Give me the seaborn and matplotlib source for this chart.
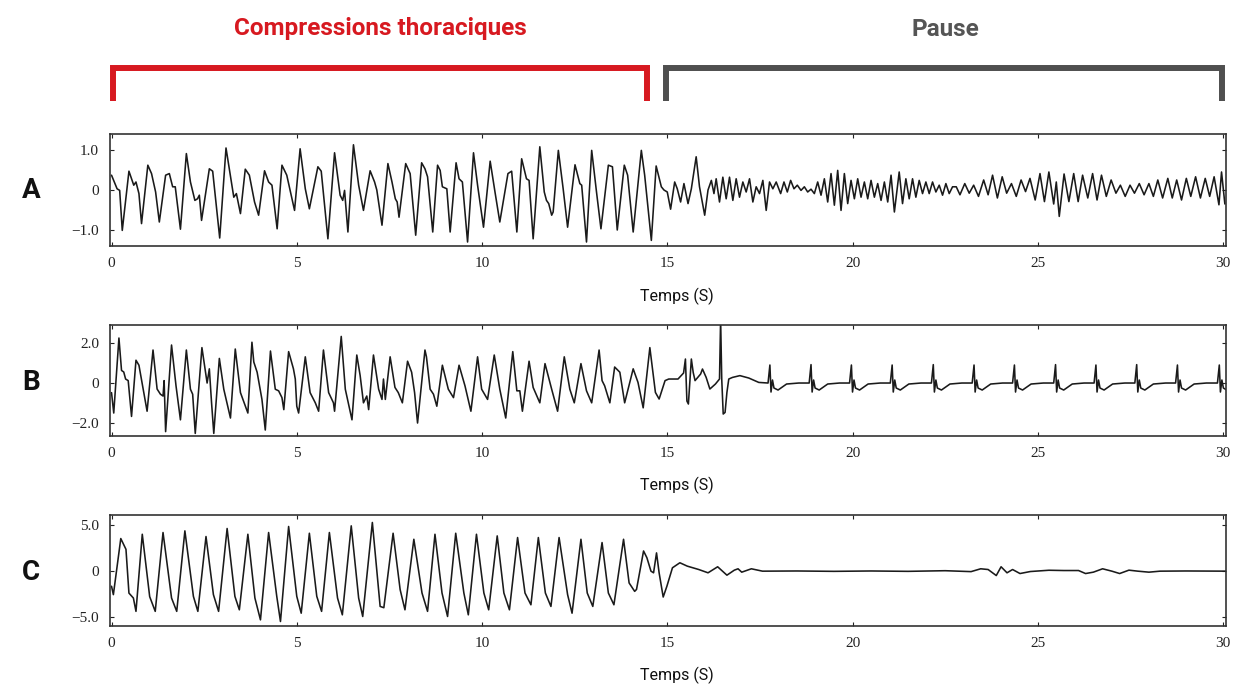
import numpy as np
import pandas as pd
import matplotlib
matplotlib.use('Agg')
import matplotlib.pyplot as plt
import seaborn as sns

# ---- signal A (time in s, amplitude) ----
a_time = [0.0, 0.15, 0.22, 0.29, 0.47, 0.60, 0.66, 0.74, 0.81, 0.98, 1.08, 1.19, 1.29, 1.46, 1.56, 1.65, 1.72, 1.86,
          2.02, 2.13, 2.25, 2.32, 2.37, 2.43, 2.64, 2.73, 2.92, 3.09, 3.30, 3.37, 3.48, 3.61, 3.72, 3.86, 3.97,
          4.13, 4.24, 4.33, 4.47, 4.60, 4.73, 4.85, 4.94, 5.09, 5.23, 5.34, 5.57, 5.66, 5.84, 6.02, 6.17, 6.24,
          6.29, 6.38, 6.53, 6.67, 6.80, 6.98, 7.10, 7.16, 7.30, 7.46, 7.57, 7.66, 7.71, 7.76, 7.94, 8.06, 8.21,
          8.37, 8.46, 8.53, 8.67, 8.80, 8.87, 8.93, 9.05, 9.14, 9.30, 9.38, 9.47, 9.61, 9.77, 9.88, 10.04, 10.22,
          10.35, 10.48, 10.70, 10.80, 10.94, 11.07, 11.20, 11.27, 11.38, 11.56, 11.68, 11.74, 11.80, 11.88, 11.92,
          12.06, 12.19, 12.31, 12.51, 12.64, 12.69, 12.82, 12.96, 13.09, 13.21, 13.41, 13.52, 13.65, 13.84, 13.93,
          14.08, 14.30, 14.39, 14.57, 14.70, 14.84, 14.91, 15.00, 15.09, 15.20, 15.27, 15.36, 15.45, 15.56, 15.65,
          15.78, 15.87, 16.01, 16.10, 16.19, 16.26, 16.32, 16.41, 16.50, 16.59, 16.68, 16.77, 16.86, 16.95, 17.04,
          17.13, 17.22, 17.31, 17.40, 17.49, 17.58, 17.67, 17.76, 17.85, 17.94, 18.06, 18.15, 18.24, 18.33, 18.42,
          18.51, 18.61, 18.70, 18.79, 18.88, 18.97, 19.06, 19.15, 19.24, 19.33, 19.42, 19.51, 19.60, 19.69, 19.78,
          19.87, 19.96, 20.05, 20.14, 20.23, 20.32, 20.41, 20.50, 20.59, 20.68, 20.77, 20.86, 20.95, 21.04, 21.13,
          21.26, 21.35, 21.44, 21.53, 21.62, 21.71, 21.80, 21.89, 21.98, 22.07, 22.16, 22.25, 22.34, 22.43, 22.52,
          22.61, 22.70, 22.80, 22.90, 23.03, 23.15, 23.27, 23.40, 23.54, 23.66, 23.78, 23.91, 24.04, 24.16, 24.29,
          24.42, 24.55, 24.67, 24.79, 24.93, 25.06, 25.18, 25.30, 25.43, 25.50, 25.58, 25.71, 25.84, 25.97, 26.09,
          26.21, 26.35, 26.48, 26.60, 26.72, 26.85, 26.98, 27.11, 27.23, 27.36, 27.49, 27.61, 27.74, 27.87, 28.00,
          28.12, 28.24, 28.37, 28.51, 28.63, 28.75, 28.88, 29.01, 29.13, 29.26, 29.39, 29.52, 29.64, 29.76, 29.89,
          29.96, 30.05]
a_value = [0.37, 0.03, -0.01, -1.01, 0.47, 0.12, 0.20, -0.09, -0.84, 0.62, 0.41, -0.05, -0.80, 0.37, 0.41, 0.08, 0.08, -0.98,
           0.91, 0.20, -0.26, -0.22, -0.13, -0.76, 0.53, 0.47, -1.20, 1.05, -0.18, -0.09, -0.59, 0.52, 0.37, -0.30, -0.63,
           0.48, 0.20, 0.12, -0.97, 0.62, 0.37, -0.13, -0.51, 1.03, 0.03, -0.47, 0.58, 0.47, -1.22, 0.93, -0.13, -0.26,
           -0.01, -1.05, 1.13, 0.12, -0.51, 0.48, 0.20, 0.00, -0.88, 0.66, 0.20, -0.22, -0.30, -0.68, 0.66, 0.41, -1.13,
           0.68, 0.53, 0.33, -1.05, 0.62, 0.49, 0.08, 0.03, -1.05, 0.68, 0.28, 0.20, -1.30, 0.93, 0.12, -0.93, 0.72,
           -0.05, -0.80, 0.41, 0.47, -1.05, 0.78, 0.28, 0.24, -1.22, 1.08, -0.05, -0.26, -0.34, -0.63, -0.55,
           0.99, 0.03, -0.93, 0.63, 0.16, 0.12, -1.30, 0.99, -0.05, -0.97, 0.62, 0.58, -1.00, 0.62, 0.37,
           -1.05, 0.99, 0.37, -1.26, 0.60, 0.08, 0.00, -0.05, -0.48, 0.20, 0.03, -0.30, 0.16, -0.34, 0.03,
           0.83, 0.08, -0.63, 0.00, 0.24, -0.09, 0.28, -0.30, 0.32, -0.22, 0.32, -0.26, 0.28, -0.18, 0.20,
           -0.05, 0.28, -0.30, 0.08, -0.09, 0.24, -0.51, 0.20, 0.03, 0.20, -0.09, 0.20, -0.05, 0.24, 0.03,
           0.12, -0.01, 0.08, -0.05, 0.02, -0.09, 0.20, -0.13, 0.28, -0.30, 0.41, -0.38, 0.49, -0.51, 0.41,
           -0.34, 0.24, -0.22, 0.28, -0.18, 0.20, -0.22, 0.24, -0.18, 0.16, -0.26, 0.20, -0.30, 0.37, -0.55,
           0.45, -0.34, 0.28, -0.22, 0.28, -0.18, 0.24, -0.09, 0.20, -0.09, 0.20, -0.05, 0.12, -0.13, 0.16,
           -0.09, 0.08, 0.08, -0.12, 0.16, -0.08, 0.12, -0.16, 0.25, -0.12, 0.37, -0.20, 0.33, -0.08, 0.16,
           -0.16, 0.25, -0.04, 0.29, -0.25, 0.41, -0.29, 0.45, -0.35, 0.20, -0.66, 0.40, -0.29, 0.41, -0.29,
           0.37, -0.20, 0.41, -0.25, 0.37, -0.16, 0.25, -0.08, 0.12, -0.16, 0.12, -0.08, 0.16, -0.12, 0.16,
           -0.16, 0.25, -0.20, 0.29, -0.20, 0.25, -0.25, 0.29, -0.16, 0.33, -0.20, 0.29, -0.16, 0.33, -0.37,
           0.45, -0.35]

# ---- signal B ----
b_time = [0.0, 0.06, 0.20, 0.27, 0.33, 0.38, 0.45, 0.54, 0.66, 0.74, 0.96, 1.12, 1.23, 1.32, 1.39, 1.42, 1.46, 1.62,
          1.74, 1.86, 2.02, 2.13, 2.19, 2.26, 2.44, 2.58, 2.64, 2.70, 2.76, 2.91, 3.03, 3.21, 3.34, 3.48, 3.68,
          3.79, 3.84, 3.93, 4.06, 4.15, 4.29, 4.42, 4.51, 4.60, 4.65, 4.78, 4.91, 4.96, 5.00, 5.05, 5.23, 5.36,
          5.50, 5.59, 5.72, 5.86, 5.99, 6.02, 6.20, 6.31, 6.49, 6.62, 6.71, 6.80, 6.89, 6.94, 7.07, 7.21, 7.30,
          7.34, 7.39, 7.52, 7.65, 7.74, 7.85, 7.99, 8.10, 8.18, 8.26, 8.46, 8.50, 8.60, 8.69, 8.78, 8.93, 9.09,
          9.23, 9.38, 9.54, 9.70, 9.88, 9.99, 10.15, 10.33, 10.48, 10.64, 10.83, 10.94, 11.02, 11.09, 11.27,
          11.38, 11.56, 11.70, 11.88, 12.04, 12.22, 12.37, 12.49, 12.67, 12.82, 12.96, 13.16, 13.24, 13.31,
          13.45, 13.58, 13.72, 13.85, 14.08, 14.21, 14.35, 14.53, 14.68, 14.78, 14.94, 15.04, 15.29, 15.44,
          15.49, 15.53, 15.57, 15.65, 15.70, 15.75, 15.90, 15.95, 16.05, 16.15, 16.30, 16.41, 16.44, 16.47,
          16.51, 16.56, 16.61, 16.66, 16.76, 16.96, 17.20, 17.47,
          17.72, 17.77, 17.80, 17.84, 17.88, 17.99, 18.22, 18.55,
          18.83, 18.88, 18.91, 18.95, 18.99, 19.10, 19.33, 19.65,
          19.92, 19.97, 20.00, 20.04, 20.08, 20.19, 20.42, 20.75,
          21.02, 21.07, 21.10, 21.14, 21.18, 21.29, 21.52, 21.85,
          22.13, 22.18, 22.21, 22.25, 22.29, 22.40, 22.63, 22.95,
          23.23, 23.28, 23.31, 23.35, 23.39, 23.50, 23.73, 24.05,
          24.32, 24.37, 24.40, 24.44, 24.48, 24.59, 24.82, 25.15,
          25.43, 25.48, 25.51, 25.55, 25.59, 25.70, 25.93, 26.25,
          26.52, 26.57, 26.60, 26.64, 26.68, 26.79, 27.02, 27.35,
          27.62, 27.67, 27.70, 27.74, 27.78, 27.89, 28.12, 28.45,
          28.72, 28.77, 28.80, 28.84, 28.88, 28.99, 29.22, 29.55,
          29.85, 29.90, 29.93, 29.97, 30.01, 30.10]
b_value = [-0.48, -1.50, 2.25, 0.63, 0.55, 0.20, 0.12, -1.67, 1.14, 0.89, -1.41, 1.65, -0.30, -0.56, -0.65, 0.12, -2.43, 1.90,
           -0.13, -1.84, 1.65, -0.31, -0.56, -2.52, 1.77, 0.00, 0.71, -0.99, -2.52, 1.23, -0.31, -1.75, 1.70, -0.48, -1.50,
           2.04, 1.05, 0.54, -0.82, -2.35, 1.60, -0.31, -0.39, -0.73, -1.33, 1.57, 0.71, 0.20, -1.16, -1.50, 1.31, -0.48,
           -0.99, -1.41, 1.65, -0.48, -0.99, -1.41, 2.33, -0.31, -1.84, 1.40, 0.38, -0.99, -0.65, -1.33, 1.40, -0.31, -0.82,
           0.20, -0.82, 1.31, -0.22, -0.48, -0.99, 1.09, 0.54, -0.48, -2.00, 1.65, 1.31, -0.31, -0.56, -1.16, 0.89, -0.31,
           -0.73, 0.89, -0.14, -1.41, 1.31, -0.31, -0.82, 1.40, -0.31, -1.75, 1.57, -0.39, -0.39, -1.41, 1.09,
           -0.22, -0.99, 0.97, -0.31, -1.41, 1.31, -0.31, -0.99, 0.97, -0.39, -0.99, 1.65, 0.12, -0.14,
           -0.99, 0.80, 0.54, -0.99, 0.71, 0.03, -1.24, 1.77, -0.47, -0.80, 0.12, 0.20, 0.20, 0.50,
           1.20, -0.90, -1.05, 1.20, 0.53, 0.12, 0.45, 0.70, 0.28, -0.30, -0.05, 0.20, 3.20, 0.20,
           -1.55, -1.47, -0.47, 0.20, 0.28, 0.37, 0.25, 0.03,
           0.00, 0.90, -0.45, 0.15, -0.25, -0.35, -0.05, 0.00,
           0.00, 0.92, -0.45, 0.15, -0.25, -0.35, -0.05, 0.00,
           0.00, 0.90, -0.45, 0.15, -0.25, -0.35, -0.05, 0.00,
           0.00, 0.90, -0.45, 0.15, -0.25, -0.35, -0.05, 0.00,
           0.00, 0.92, -0.45, 0.15, -0.25, -0.35, -0.05, 0.00,
           0.00, 0.90, -0.45, 0.15, -0.25, -0.35, -0.05, 0.00,
           0.00, 0.90, -0.45, 0.15, -0.25, -0.35, -0.05, 0.00,
           0.00, 0.92, -0.45, 0.15, -0.25, -0.35, -0.05, 0.00,
           0.00, 0.90, -0.45, 0.15, -0.25, -0.35, -0.05, 0.00,
           0.00, 0.92, -0.45, 0.15, -0.25, -0.35, -0.05, 0.00,
           0.00, 0.90, -0.45, 0.15, -0.25, -0.35, -0.05, 0.00,
           0.00, 0.90, -0.45, 0.15, -0.25, -0.35]

# ---- signal C ----
c_time = [0.0, 0.05, 0.25, 0.39, 0.47, 0.59, 0.66, 0.83, 1.03, 1.18, 1.39, 1.62, 1.76, 1.98, 2.21, 2.33, 2.55, 2.75,
          2.89, 3.12, 3.33, 3.45, 3.68, 3.87, 4.02, 4.24, 4.46, 4.56, 4.78, 5.00, 5.12, 5.34, 5.54, 5.67, 5.88,
          6.10, 6.23, 6.47, 6.67, 6.78, 7.04, 7.21, 7.25, 7.35, 7.60, 7.79, 7.92, 8.16, 8.38, 8.53, 8.73, 8.92,
          9.07, 9.29, 9.51, 9.63, 9.85, 10.05, 10.18, 10.41, 10.59, 10.74, 10.96, 11.16, 11.32, 11.52, 11.71,
          11.86, 12.08, 12.31, 12.43, 12.67, 12.84, 12.99, 13.24, 13.41, 13.56, 13.82, 13.97, 14.12, 14.17,
          14.36, 14.45, 14.56, 14.63, 14.71, 14.78, 14.89, 14.99, 15.14, 15.34, 15.54, 15.85, 16.10, 16.36,
          16.61, 16.81, 16.91, 17.01, 17.27, 17.57, 18.5, 19.5, 20.5, 21.5, 22.5, 23.2, 23.46, 23.66, 23.88,
          24.01, 24.17, 24.32, 24.52, 24.8, 25.3, 25.7, 26.1, 26.29, 26.5, 26.75, 27.0, 27.21, 27.46, 27.7,
          28.0, 28.3, 29.0, 30.1]
c_value = [-1.65, -2.57, 3.57, 2.39, -2.40, -2.94, -4.40, 4.04, -2.79, -4.40, 4.23, -2.94, -4.40, 4.41, -2.76, -4.40, 3.79, -2.57,
           -4.40, 4.67, -2.76, -4.23, 4.04, -2.94, -5.33, 4.23, -2.76, -5.51, 4.89, -2.76, -4.60, 4.15, -2.76, -4.40, 4.23,
           -2.94, -4.78, 4.96, -2.94, -4.96, 5.33, -2.02, -3.86, -4.00, 4.15, -2.02, -4.23, 3.49, -2.39, -4.40, 4.04, -2.39,
           -4.96, 4.15, -2.39, -4.78, 4.04, -2.39, -4.23, 3.86, -2.39, -4.23, 3.68, -2.39, -3.68, 3.68, -2.39,
           -3.86, 3.68, -2.57, -4.60, 3.49, -2.39, -3.86, 3.13, -2.39, -3.68, 3.49, -1.29, -2.21, -2.00,
           2.21, 1.47, 0.00, -0.18, 2.00, -0.18, -2.83, -1.65, 0.37, 0.92, 0.55, 0.18, -0.18, 0.48,
           -0.44, 0.11, 0.26, -0.11, 0.26, 0.00, 0.02, -0.02, 0.02, -0.02, 0.05, -0.05, 0.26, 0.18, -0.48,
           0.48, -0.18, 0.18, -0.26, -0.04, 0.10, 0.07, 0.07, -0.26, -0.11, 0.26, 0.00, -0.26, 0.11, 0.00,
           -0.11, 0.00, 0.02, 0.00]

panels = ['A', 'B', 'C']
y_ticks = [[-1.0, 0, 1.0], [-2.0, 0, 2.0], [-5.0, 0, 5.0]]
y_ticklabels = [['\u22121.0', '0', '1.0'], ['\u22122.0', '0', '2.0'], ['\u22125.0', '0', '5.0']]
y_limits = [(-1.4, 1.4), (-2.65, 2.9), (-6.0, 6.15)]
x_ticks = [0, 5, 10, 15, 20, 25, 30]

signals = [pd.DataFrame({'t': a_time, 'v': a_value}),
           pd.DataFrame({'t': b_time, 'v': b_value}),
           pd.DataFrame({'t': c_time, 'v': c_value})]

sns.set_style('white')
plt.rcParams['font.family'] = ['Roboto', 'DejaVu Sans']

fig = plt.figure(figsize=(12.42, 6.86), dpi=100)

# axes boxes in figure fractions (left, bottom, width, height)
boxes = [(0.0886, 0.6414, 0.8985, 0.1633),
         (0.0886, 0.3644, 0.8985, 0.1618),
         (0.0886, 0.0875, 0.8985, 0.1618)]
letter_y = [0.723, 0.442, 0.165]

for i, df in enumerate(signals):
    ax = fig.add_axes(boxes[i])
    sns.lineplot(data=df, x='t', y='v', ax=ax, color='#1a1a1a', linewidth=1.15,
                 estimator=None, sort=False, errorbar=None)
    ax.set_xlim(-0.04, 30.08)
    ax.set_ylim(*y_limits[i])
    ax.set_xticks(x_ticks)
    ax.set_xticklabels([str(x) for x in x_ticks], family='Liberation Serif', fontsize=11)
    ax.set_yticks(y_ticks[i])
    ax.set_yticklabels(y_ticklabels[i], family='Liberation Serif', fontsize=11)
    ax.tick_params(direction='in', length=3, width=0.8, top=True, right=True,
                   bottom=True, left=True, pad=8, colors='#222222')
    for s in ax.spines.values():
        s.set_color('#333333')
        s.set_linewidth(1.2)
    ax.set_ylabel('')
    ax.set_xlabel('Temps (S)', fontsize=11.5, color='#111111')
    ax.xaxis.set_label_coords(0.508, -0.37)
    ax.xaxis.label.set_va('top')
    fig.text(0.018, letter_y[i], panels[i], fontsize=20, fontweight='bold', color='#111111',
             ha='left', va='center')

# phase headers with brackets
fig.text(380 / 1242, 1 - 29 / 686, 'Compressions thoraciques', color='#d71920', fontsize=17.5,
         fontweight='bold', ha='center', va='center')
fig.text(945 / 1242, 1 - 29 / 686, 'Pause', color='#555555', fontsize=17.5,
         fontweight='bold', ha='center', va='center')

def bracket(x0, x1, color):
    xs = [x0 / 1242, x0 / 1242, x1 / 1242, x1 / 1242]
    ys = [1 - 101 / 686, 1 - 68 / 686, 1 - 68 / 686, 1 - 101 / 686]
    fig.add_artist(plt.Line2D(xs, ys, transform=fig.transFigure, color=color, linewidth=4.3,
                              solid_joinstyle='miter', solid_capstyle='butt'))

bracket(113, 647, '#d71920')
bracket(666, 1222, '#4f4f4f')

fig.savefig('out.png', dpi=100)
